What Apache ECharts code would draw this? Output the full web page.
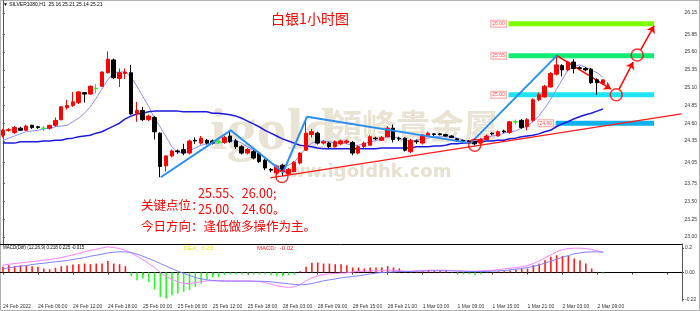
<!DOCTYPE html>
<html><head><meta charset="utf-8">
<script src="https://cdn.jsdelivr.net/npm/echarts@6/dist/echarts.min.js"></script>
<style>html,body{margin:0;padding:0;background:#fff}#c{width:700px;height:311px}</style>
</head><body><div id="c"></div>
<script>
// ---- data ----
const tickLabels = ["24 Feb 2022","24 Feb 06:00","24 Feb 12:00","24 Feb 18:00","25 Feb 00:00","25 Feb 06:00","25 Feb 12:00","25 Feb 18:00","28 Feb 03:00","28 Feb 09:00","28 Feb 15:00","28 Feb 21:00","1 Mar 03:00","1 Mar 09:00","1 Mar 15:00","1 Mar 21:00","2 Mar 03:00","2 Mar 09:00"];
// [open, close, low, high]
const candles = [
[24.43,24.50,24.40,24.52],[24.50,24.51,24.48,24.53],[24.47,24.54,24.45,24.56],[24.53,24.50,24.49,24.55],[24.50,24.56,24.49,24.58],
[24.57,24.54,24.52,24.58],[24.55,24.54,24.52,24.56],[24.53,24.53,24.49,24.56],[24.53,24.57,24.51,24.58],[24.57,24.64,24.55,24.68],
[24.65,24.83,24.64,24.84],[24.82,24.85,24.79,24.93],[24.85,24.90,24.83,25.04],[24.89,25.04,24.87,25.05],[25.03,25.01,24.89,25.04],
[25.01,25.12,25.00,25.13],[25.09,25.09,25.02,25.15],[25.12,25.32,25.11,25.33],[25.31,25.50,25.30,25.61],[25.49,25.24,25.22,25.51],
[25.23,25.31,25.11,25.37],[25.30,25.32,25.22,25.37],[25.31,24.73,24.72,25.42],[24.74,24.78,24.62,24.90],[24.78,24.65,24.63,24.83],
[24.65,24.70,24.63,24.72],[24.68,24.48,24.37,24.70],[24.46,23.99,23.84,24.47],[24.00,24.14,23.92,24.15],[24.14,24.21,24.12,24.23],
[24.21,24.20,24.17,24.23],[24.23,24.18,24.15,24.31],[24.18,24.35,24.16,24.37],[24.36,24.35,24.31,24.40],[24.32,24.39,24.30,24.42],
[24.36,24.32,24.30,24.38],[24.35,24.32,24.30,24.37],[24.34,24.34,24.31,24.37],[24.33,24.40,24.31,24.42],[24.42,24.34,24.32,24.50],
[24.35,24.27,24.24,24.38],[24.27,24.18,24.16,24.29],[24.18,24.23,24.16,24.25],[24.20,24.11,24.09,24.22],[24.18,24.06,24.04,24.20],
[24.08,23.97,23.94,24.10],[23.95,23.94,23.91,23.97],[23.90,23.99,23.88,24.01],[24.01,23.92,23.86,24.03],[23.89,23.95,23.87,23.97],
[23.92,24.05,23.91,24.07],[24.04,24.18,24.02,24.19],[24.22,24.46,24.21,24.67],[24.44,24.48,24.40,24.52],[24.46,24.32,24.30,24.48],
[24.32,24.34,24.30,24.36],[24.32,24.27,24.25,24.34],[24.27,24.34,24.26,24.36],[24.31,24.35,24.29,24.37],[24.33,24.35,24.31,24.37],
[24.33,24.18,24.15,24.35],[24.18,24.27,24.16,24.29],[24.27,24.32,24.25,24.34],[24.29,24.41,24.28,24.43],[24.39,24.38,24.36,24.41],
[24.36,24.40,24.35,24.42],[24.41,24.53,24.40,24.56],[24.53,24.37,24.33,24.58],[24.39,24.38,24.35,24.41],[24.39,24.22,24.20,24.40],
[24.20,24.36,24.18,24.38],[24.35,24.34,24.31,24.37],[24.32,24.43,24.30,24.45],[24.43,24.46,24.42,24.48],[24.45,24.44,24.42,24.46],
[24.45,24.44,24.43,24.46],[24.44,24.42,24.41,24.45],[24.42,24.40,24.39,24.43],[24.38,24.35,24.34,24.39],[24.36,24.34,24.33,24.37],
[24.35,24.33,24.31,24.36],[24.34,24.31,24.29,24.35],[24.32,24.37,24.31,24.39],[24.37,24.42,24.36,24.44],[24.46,24.45,24.43,24.47],
[24.42,24.48,24.41,24.50],[24.49,24.48,24.46,24.51],[24.47,24.62,24.45,24.63],[24.62,24.62,24.58,24.65],[24.64,24.54,24.52,24.66],
[24.55,24.65,24.50,24.67],[24.64,24.93,24.62,24.95],[24.93,25.00,24.91,25.03],[24.97,25.12,24.96,25.14],[25.11,25.30,25.10,25.32],
[25.29,25.42,25.27,25.55],[25.41,25.35,25.26,25.43],[25.35,25.46,25.33,25.48],[25.46,25.37,25.30,25.50],[25.38,25.37,25.35,25.40],
[25.37,25.35,25.33,25.39],[25.36,25.17,25.15,25.38],[25.21,25.17,25.00,25.23],[25.16,25.21,25.14,25.21]
];
const maFast = [24.36,24.39,24.42,24.45,24.48,24.49,24.50,24.52,24.53,24.55,24.56,24.57,24.62,24.67,24.74,24.83,24.95,25.08,25.21,25.31,
25.32,25.32,25.25,25.12,24.98,24.84,24.67,24.55,24.41,24.27,24.19,24.18,24.21,24.25,24.29,24.31,24.32,24.32,24.34,24.35,
24.36,24.32,24.27,24.22,24.18,24.11,24.04,24.01,23.98,24.01,24.05,24.15,24.25,24.32,24.35,24.35,24.34,24.32,24.32,24.31,
24.29,24.29,24.31,24.34,24.35,24.38,24.41,24.41,24.39,24.36,24.35,24.36,24.38,24.39,24.41,24.41,24.41,24.41,24.39,24.36,
24.35,24.35,24.38,24.39,24.42,24.43,24.46,24.48,24.49,24.53,24.56,24.62,24.70,24.81,24.93,25.07,25.21,25.35,25.40,25.42,
25.39,25.35,25.31,25.25];
const maSlow = [24.32,24.32,24.32,24.34,24.34,24.34,24.34,24.35,24.35,24.36,24.36,24.38,24.39,24.41,24.42,24.43,24.46,24.48,24.52,24.56,
24.60,24.66,24.70,24.73,24.74,24.76,24.77,24.77,24.77,24.77,24.77,24.76,24.76,24.76,24.76,24.76,24.74,24.74,24.73,24.72,
24.70,24.67,24.63,24.59,24.55,24.50,24.46,24.42,24.38,24.35,24.32,24.29,24.28,24.27,24.25,24.24,24.24,24.24,24.24,24.24,
24.24,24.24,24.24,24.24,24.24,24.25,24.25,24.25,24.25,24.25,24.25,24.27,24.27,24.27,24.28,24.28,24.29,24.31,24.31,24.32,
24.32,24.34,24.34,24.35,24.35,24.36,24.36,24.38,24.39,24.41,24.42,24.43,24.45,24.48,24.50,24.55,24.59,24.62,24.66,24.69,
24.72,24.74,24.77,24.80];
const macdHist = [0.046,0.060,0.052,0.060,0.054,0.052,0.046,0.033,0.027,0.038,0.052,0.057,0.065,0.068,0.073,0.068,0.073,0.073,0.095,0.073,
0.068,0.052,-0.030,-0.063,-0.049,-0.076,-0.139,-0.199,-0.212,-0.185,-0.171,-0.158,-0.144,-0.117,-0.090,-0.057,-0.041,-0.035,-0.022,-0.014,
-0.014,-0.014,-0.016,-0.016,-0.016,-0.016,-0.022,-0.030,-0.030,-0.022,-0.016,0.011,0.046,0.079,0.082,0.073,0.073,0.068,0.068,0.060,
0.041,0.041,0.033,0.041,0.041,0.041,0.052,0.041,0.033,0.005,0.005,0.011,0.011,0.019,0.014,0.014,0.019,0.005,-0.014,-0.016,
-0.014,-0.022,-0.014,-0.003,0.005,0.011,0.011,0.019,0.024,0.033,0.033,0.060,0.073,0.101,0.128,0.141,0.136,0.136,0.114,0.101,
0.073,0.033,0.005,-0.008];
const macdPink = [0.060,0.068,0.073,0.079,0.084,0.090,0.095,0.101,0.106,0.114,0.122,0.133,0.144,0.155,0.169,0.182,0.190,0.201,0.209,0.204,
0.196,0.182,0.160,0.133,0.106,0.073,0.041,0.000,-0.030,-0.057,-0.076,-0.090,-0.090,-0.084,-0.076,-0.068,-0.068,-0.068,-0.068,-0.068,
-0.068,-0.068,-0.068,-0.071,-0.076,-0.082,-0.095,-0.109,-0.117,-0.122,-0.117,-0.098,-0.068,-0.044,-0.027,-0.016,-0.011,-0.008,-0.005,-0.003,
0.005,0.008,0.011,0.014,0.014,0.016,0.019,0.019,0.014,0.011,0.011,0.014,0.016,0.019,0.019,0.019,0.019,0.016,0.014,0.011,
0.011,0.011,0.014,0.016,0.019,0.024,0.030,0.035,0.041,0.046,0.057,0.073,0.095,0.120,0.144,0.169,0.188,0.196,0.199,0.199,
0.196,0.188,0.177,0.166];
const macdBlue = [0.033,0.038,0.046,0.052,0.057,0.065,0.071,0.076,0.082,0.087,0.092,0.098,0.106,0.114,0.122,0.133,0.141,0.150,0.160,0.166,
0.169,0.169,0.163,0.150,0.133,0.114,0.095,0.073,0.052,0.030,0.011,-0.008,-0.024,-0.041,-0.052,-0.060,-0.065,-0.068,-0.071,-0.071,
-0.071,-0.071,-0.071,-0.071,-0.071,-0.073,-0.076,-0.082,-0.087,-0.092,-0.098,-0.101,-0.098,-0.090,-0.079,-0.068,-0.060,-0.052,-0.044,-0.038,
-0.033,-0.027,-0.019,-0.011,-0.005,0.000,0.003,0.005,0.008,0.008,0.008,0.011,0.011,0.014,0.014,0.014,0.014,0.014,0.011,0.011,
0.008,0.008,0.008,0.008,0.011,0.014,0.016,0.022,0.027,0.033,0.041,0.049,0.063,0.076,0.092,0.109,0.125,0.139,0.152,0.160,
0.166,0.169,0.169,0.166];
const priceTicks = [26.15,25.85,25.60,25.35,25.10,24.85,24.60,24.35,24.05,23.75,23.50,23.25,23.00];
const macdTicks = [0.2,0,-0.22];
// annotations in data space: [bar index, price]
const levelValues = [26.00,25.55,25.00,24.60];
const levelStart = [86.8,86.8,86.8,94.9];
const levelEnd = [111.8,111.8,111.8,111.8];
const levelLabelAt = [85.1,85.1,85.1,93.2];
const zigzag = [[27.1,23.84],[39.1,24.50],[48.1,23.91],[52.2,24.69],[80.3,24.32],[95.1,25.55]];
const trendLine = [[45.9,23.83],[116.5,24.73]];
const arrows = [[[95.1,25.55],[104.4,25.08]],[[105.8,25.08],[108.2,25.46]],[[109.5,25.63],[111.8,25.97]]];
const circles = [[47.9,23.85],[81.0,24.29],[105.3,25.00],[108.9,25.56]];

// ---- chart ----
const N = 117;
const cats = Array.from({length:N},(_,i)=> (i%6===0 && tickLabels[i/6]) ? tickLabels[i/6] : '');
const last = candles[candles.length-1];
const fmt2 = v => v.toFixed(2);
const levelColors = ['#7cff00','#10ec74','#1de6f2','#10b0ee'];
const small = 'Liberation Sans';

const series = [
  {type:'candlestick', xAxisIndex:0, yAxisIndex:0, data:candles, barWidth:4, z:5,
   itemStyle:{color:'#ff0000', color0:'#000000', borderColor:'#ff0000', borderColor0:'#000000', borderColorDoji:'#00ff00', borderWidth:1},
   markLine:{symbol:'none', silent:true, animation:false, data:[{yAxis:last[1]}], lineStyle:{opacity:0},
     label:{position:'end', formatter:fmt2(last[1]), backgroundColor:'#000', color:'#fff', fontSize:5, fontFamily:small, padding:[1,2,1,2], distance:1}}},
  {type:'line', xAxisIndex:0, yAxisIndex:0, data:maFast, symbol:'none', lineStyle:{color:'#8c8cff', width:1}, z:4},
  {type:'line', xAxisIndex:0, yAxisIndex:0, data:maSlow, symbol:'none', lineStyle:{color:'#1a1ae0', width:1.5}, z:4},
];
levelValues.forEach((v,k)=>{
  series.push({type:'line', xAxisIndex:2, yAxisIndex:0, data:[[levelStart[k],v],[levelEnd[k],v]], symbol:'none', z:3,
    lineStyle:{color:levelColors[k], width:5, cap:'butt'}});
});
series.push({type:'scatter', xAxisIndex:2, yAxisIndex:0, data:levelValues.map((v,k)=>[levelLabelAt[k],v]), symbol:'rect', symbolSize:1,
  itemStyle:{color:'rgba(255,255,255,0)'}, z:6,
  label:{show:true, position:'inside', formatter:p=>fmt2(p.value[1]), fontSize:5, fontFamily:small, color:'#ff2020',
    borderColor:'#ff9090', borderWidth:1, backgroundColor:'#fff', padding:[1,1,0,1]}});
series.push({type:'line', xAxisIndex:2, yAxisIndex:0, data:zigzag, symbol:'none', lineStyle:{color:'#2a8ff0', width:2}, z:6});
series.push({type:'line', xAxisIndex:2, yAxisIndex:0, data:trendLine, symbol:'none', lineStyle:{color:'#ff1a1a', width:1.3}, z:6,
  markLine:{symbol:['none','arrow'], symbolSize:7, silent:true, animation:false, label:{show:false},
    lineStyle:{color:'#ff0000', width:1.5, type:'solid'},
    data:arrows.map(s=>[{coord:s[0]},{coord:s[1]}])}});
series.push({type:'scatter', xAxisIndex:2, yAxisIndex:0, data:circles, symbol:'circle', symbolSize:12, z:7,
  itemStyle:{color:'rgba(0,0,0,0)', borderColor:'#ff0000', borderWidth:1.5}});
// MACD
series.push({type:'bar', xAxisIndex:1, yAxisIndex:1, data:macdHist, barWidth:1.6,
  itemStyle:{color:p=> p.value>=0 ? '#ff1a1a' : '#22ff22'}});
series.push({type:'line', xAxisIndex:1, yAxisIndex:1, data:macdPink, symbol:'none', lineStyle:{color:'#ff80ff', width:1}});
series.push({type:'line', xAxisIndex:1, yAxisIndex:1, data:macdBlue, symbol:'none', lineStyle:{color:'#8080ff', width:1}});

const chart = echarts.init(document.getElementById('c'), null, {renderer:'canvas'});
chart.setOption({
  animation:false,
  backgroundColor:'#ffffff',
  grid:[{left:-1, top:0, width:683, height:244},{left:-1, top:244, width:683, height:57}],
  xAxis:[
    {type:'category', gridIndex:0, data:cats, boundaryGap:true, axisLine:{show:true, lineStyle:{color:'#000', width:1}}, axisTick:{show:false}, axisLabel:{show:false}, splitLine:{show:false}},
    {type:'category', gridIndex:1, data:cats, boundaryGap:true, axisLine:{show:true, lineStyle:{color:'#000', width:1}},
      axisTick:{show:true, interval:(i)=>i%6===0, alignWithLabel:true, length:2, lineStyle:{color:'#333'}},
      axisLabel:{show:true, interval:(i)=>i%6===0, fontSize:5, fontFamily:small, color:'#333', align:'left', margin:3}, splitLine:{show:false}},
    {type:'value', gridIndex:0, min:-0.5, max:N-0.5, show:false}
  ],
  yAxis:[
    {type:'value', gridIndex:0, position:'right', min:22.901, max:26.333, scale:true,
      axisLine:{show:true, lineStyle:{color:'#555'}}, axisTick:{show:true, length:2, customValues:priceTicks, lineStyle:{color:'#555'}},
      axisLabel:{show:true, customValues:priceTicks, formatter:fmt2, fontSize:5, fontFamily:small, color:'#333', margin:3},
      splitLine:{show:false}},
    {type:'value', gridIndex:1, position:'right', min:-0.233, max:0.233,
      axisLine:{show:true, lineStyle:{color:'#555'}}, axisTick:{show:true, length:2, customValues:macdTicks, lineStyle:{color:'#555'}},
      axisLabel:{show:true, customValues:macdTicks, formatter:v=> v===0 ? '0.00' : (Math.abs(v-0.2)<1e-9 ? '0.2' : fmt2(v)), fontSize:5, fontFamily:small, color:'#333', margin:3},
      splitLine:{show:false}}
  ],
  series:series,
  graphic:[
    {type:'rect', shape:{x:0.5,y:0.5,width:699,height:310}, style:{fill:'none', stroke:'#b0b0b0', lineWidth:1}, z:0, silent:true},
    // watermark
    {type:'text', x:210, y:133, z:0, silent:true, style:{text:'igold', fill:'#e9e3d4', font:'bold 60px "Liberation Serif"', align:'left', verticalAlign:'middle'}},
    {type:'text', x:328, y:126, z:0, silent:true, style:{text:'領峰貴金屬', fill:'#e9e3d4', font:'bold 34px "Noto Sans CJK TC"', align:'left', verticalAlign:'middle'}},
    {type:'text', x:272, y:172, z:0, silent:true, style:{text:'www.igoldhk.com', fill:'#e6e0d0', font:'bold 18px "DejaVu Sans"', align:'left', verticalAlign:'middle'}},
    // header texts
    {type:'text', x:3, y:5, z:20, silent:true, style:{text:'▼ SILVER1080,H1  '+[last[0],last[3],last[2],last[1]].map(fmt2).join(' '), fill:'#000', font:'5px "Liberation Sans"', verticalAlign:'middle'}},
    {type:'text', x:310, y:19, z:20, silent:true, style:{text:'白银1小时图', fill:'#ff0000', font:'14px "Noto Sans CJK SC"', align:'center', verticalAlign:'middle'}},
    {type:'text', x:198, y:193, z:20, silent:true, style:{text:'25.55、26.00;', fill:'#ff0000', font:'12.5px "Noto Sans CJK SC"', verticalAlign:'middle'}},
    {type:'text', x:141, y:205, z:20, silent:true, style:{text:'关键点位：', fill:'#ff0000', font:'12.5px "Noto Sans CJK SC"', verticalAlign:'middle'}},
    {type:'text', x:198, y:209, z:20, silent:true, style:{text:'25.00、24.60。', fill:'#ff0000', font:'12.5px "Noto Sans CJK SC"', verticalAlign:'middle'}},
    {type:'text', x:141, y:226, z:20, silent:true, style:{text:'今日方向：逢低做多操作为主。', fill:'#ff0000', font:'12.5px "Noto Sans CJK SC"', verticalAlign:'middle'}},
    {type:'text', x:3, y:248, z:20, silent:true, style:{text:'MACD(Diff) (12,26,9) 0.218 0.225 -0.015', fill:'#000', font:'4.5px "Liberation Sans"', verticalAlign:'middle'}},
    {type:'text', x:184, y:248, z:20, silent:true, style:{text:'DEA:  0.23', fill:'#e8e800', font:'6px "Liberation Sans"', verticalAlign:'middle'}},
    {type:'text', x:257, y:248, z:20, silent:true, style:{text:'MACD:  -0.02', fill:'#ff2020', font:'6px "Liberation Sans"', verticalAlign:'middle'}}
  ]
});
</script></body></html>
